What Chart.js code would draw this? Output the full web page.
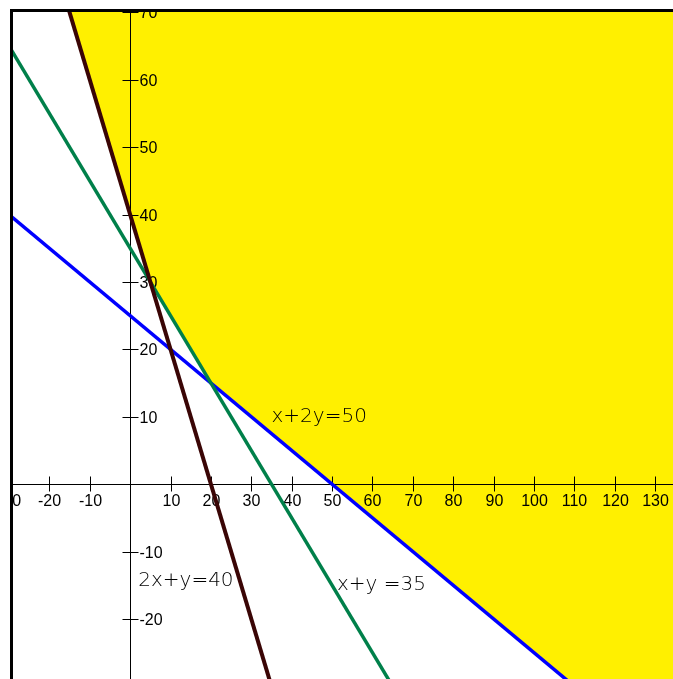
<!DOCTYPE html>
<html>
<head>
<meta charset="utf-8">
<script src="https://cdn.jsdelivr.net/npm/chart.js@4/dist/chart.umd.min.js"></script>
<style>
html,body{margin:0;padding:0;background:#fff;}
#wrap{width:673px;height:679px;}
</style>
</head>
<body>
<div id="wrap"><canvas id="c" width="673" height="679"></canvas></div>
<script>
// axis ranges and ticks
var xMin = -29.5, xMax = 134.4;
var yMin = -28.9, yMax = 70.2;
var xTicks = [-30, -20, -10, 10, 20, 30, 40, 50, 60, 70, 80, 90, 100, 110, 120, 130];
var yTicks = [-20, -10, 10, 20, 30, 40, 50, 60, 70];

// constraint lines (end points, clipped by the chart area)
var line1X = [-16, 35], line1Y = [72, -30];   // 2x+y=40
var line2X = [-35, 65], line2Y = [70, -30];   // x+y=35
var line3X = [-30, 110], line3Y = [40, -30];  // x+2y=50

// lower edge of the feasible (yellow) region
var regionX = [-16, 5, 20, 50, 140];
var regionY = [72, 30, 15, 0, -45];

// equation labels: text, x, y (data units, left / baseline)
var labelText = ['x+2y=50', '2x+y=40', 'x+y =35'];
var labelX = [35, 2, 51.2];
var labelY = [9.3, -15.1, -15.7];

function pts(xs, ys){
    var out = [];
    for (var i = 0; i < xs.length; i++) out.push({x: xs[i], y: ys[i]});
    return out;
}

var axesPlugin = {
    id: 'axesThroughOrigin',
    beforeDatasetsDraw: function(chart){
        var ctx = chart.ctx, a = chart.chartArea;
        var sx = chart.scales.x, sy = chart.scales.y;
        var x0 = Math.round(sx.getPixelForValue(0)) + 0.5;
        var y0 = Math.round(sy.getPixelForValue(0)) + 0.5;
        ctx.save();
        ctx.beginPath();
        ctx.rect(a.left, a.top, a.right - a.left, a.bottom - a.top);
        ctx.clip();
        ctx.strokeStyle = '#000';
        ctx.lineWidth = 1;
        ctx.beginPath();
        ctx.moveTo(a.left, y0); ctx.lineTo(a.right, y0);
        ctx.moveTo(x0, a.top); ctx.lineTo(x0, a.bottom);
        ctx.stroke();

        ctx.fillStyle = '#000';
        ctx.font = '16px "Liberation Sans Narrow", "Liberation Sans", sans-serif';
        // x ticks
        ctx.textAlign = 'center';
        ctx.textBaseline = 'top';
        for (var i = 0; i < xTicks.length; i++) {
            var px = Math.round(sx.getPixelForValue(xTicks[i])) + 0.5;
            ctx.beginPath();
            ctx.moveTo(px, y0 - 8); ctx.lineTo(px, y0 + 7);
            ctx.stroke();
            ctx.fillText(String(xTicks[i]), px, y0 + 9);
        }
        // y ticks
        ctx.textAlign = 'left';
        ctx.textBaseline = 'middle';
        for (var j = 0; j < yTicks.length; j++) {
            var py = Math.round(sy.getPixelForValue(yTicks[j])) + 0.5;
            ctx.beginPath();
            ctx.moveTo(x0 - 8, py); ctx.lineTo(x0 + 8, py);
            ctx.stroke();
            ctx.fillText(String(yTicks[j]), x0 + 9, py + 1);
        }

        // equation labels
        ctx.fillStyle = '#000';
        ctx.font = '200 20px "DejaVu Sans", sans-serif';
        ctx.textBaseline = 'alphabetic';
        for (var k = 0; k < labelText.length; k++) {
            ctx.fillText(labelText[k], sx.getPixelForValue(labelX[k]), sy.getPixelForValue(labelY[k]));
        }
        ctx.restore();
    },
    afterDraw: function(chart){
        var ctx = chart.ctx;
        ctx.save();
        ctx.fillStyle = '#000';
        ctx.fillRect(10, 9, chart.width - 10, 3);
        ctx.fillRect(10, 9, 3, chart.height - 9);
        ctx.restore();
    }
};

new Chart(document.getElementById('c'), {
    type: 'scatter',
    data: {
        datasets: [
            {
                label: 'region',
                data: pts(regionX, regionY),
                showLine: true,
                fill: 'end',
                backgroundColor: '#fff000',
                borderWidth: 0,
                borderColor: 'rgba(0,0,0,0)',
                pointRadius: 0
            },
            {
                label: '2x+y=40',
                data: pts(line1X, line1Y),
                showLine: true,
                borderColor: '#3a0505',
                borderWidth: 4,
                pointRadius: 0
            },
            {
                label: 'x+y=35',
                data: pts(line2X, line2Y),
                showLine: true,
                borderColor: '#00804a',
                borderWidth: 3.5,
                pointRadius: 0
            },
            {
                label: 'x+2y=50',
                data: pts(line3X, line3Y),
                showLine: true,
                borderColor: '#0000ff',
                borderWidth: 3.5,
                pointRadius: 0
            }
        ]
    },
    options: {
        responsive: false,
        animation: false,
        events: [],
        layout: { padding: { left: 11, top: 11, right: 0, bottom: 0 } },
        scales: {
            x: { type: 'linear', min: xMin, max: xMax, display: false },
            y: { type: 'linear', min: yMin, max: yMax, display: false }
        },
        plugins: {
            legend: { display: false },
            tooltip: { enabled: false },
            filler: { drawTime: 'beforeDraw' }
        }
    },
    plugins: [axesPlugin]
});
</script>
</body>
</html>
